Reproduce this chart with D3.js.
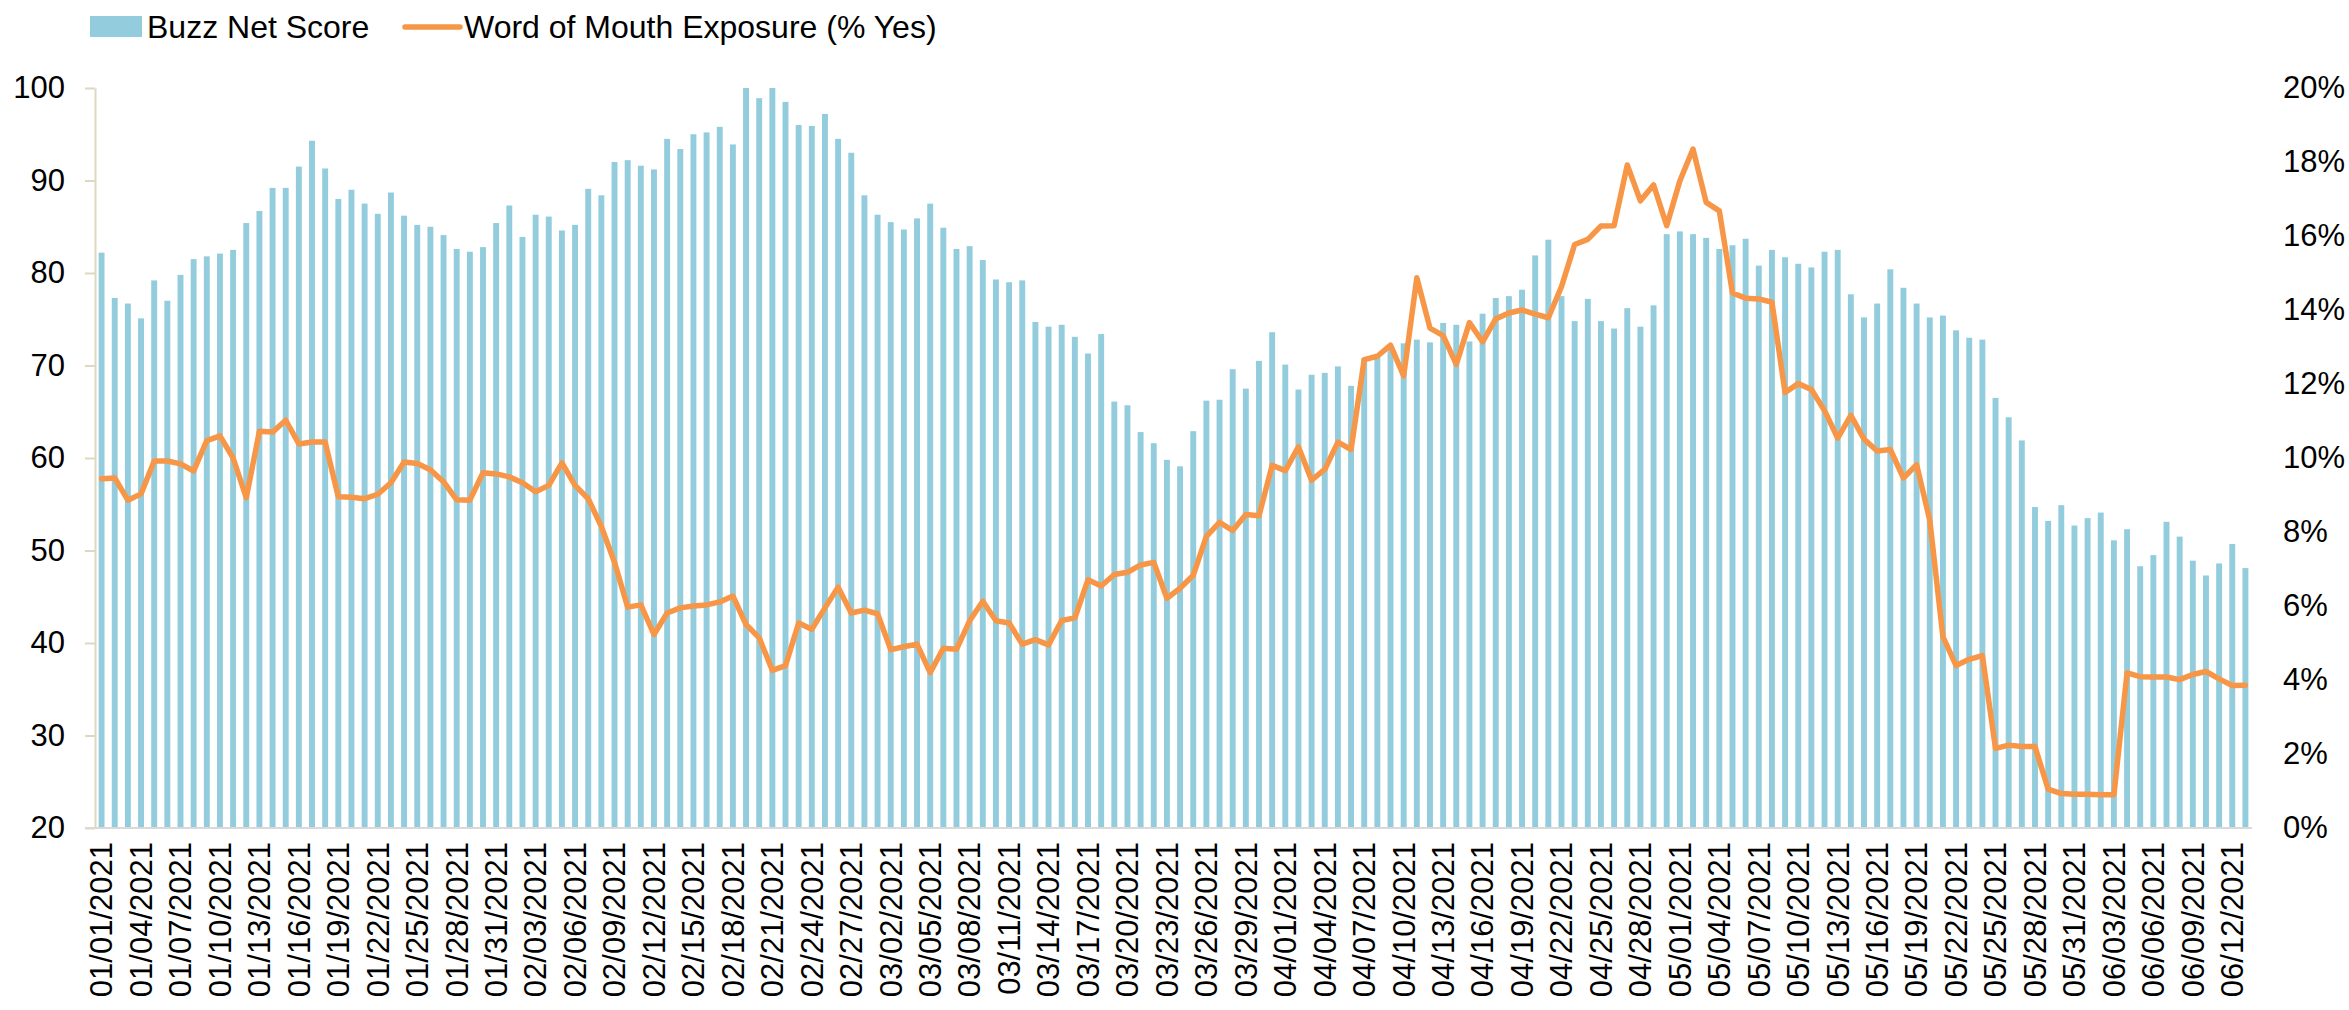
<!DOCTYPE html>
<html>
<head>
<meta charset="utf-8">
<script src="https://cdn.jsdelivr.net/npm/d3@7"></script>
<style>
  body { margin: 0; background: #fff; }
  text { font-family: Arial, "Liberation Sans", sans-serif; fill: #000; }
</style>
</head>
<body>
<div id="chart"></div>
<script>
// daily buzz net score (left axis)
var buzz = [
  82.2, 77.3, 76.7, 75.1, 79.2, 77.0, 79.8, 81.5, 81.8, 82.1, 82.5, 85.4, 86.7, 89.2, 89.2, 91.5,
  94.3, 91.3, 88.0, 89.0, 87.5, 86.4, 88.7, 86.2, 85.2, 85.0, 84.1, 82.6, 82.3, 82.8, 85.4,
  87.3, 83.9, 86.3, 86.1, 84.6, 85.2, 89.1, 88.4, 92.0, 92.2, 91.6, 91.2, 94.5, 93.4, 95.0, 95.2,
  95.8, 93.9, 100.0, 98.9, 100.0, 98.5, 96.0, 95.9, 97.2, 94.5, 93.0, 88.4, 86.3, 85.5, 84.7, 85.9,
  87.5, 84.9, 82.6, 82.9,
  81.4, 79.3, 79.0, 79.2, 74.7, 74.2, 74.4, 73.1, 71.3, 73.4, 66.1, 65.7, 62.8, 61.6, 59.8, 59.1,
  62.9, 66.2, 66.3, 69.6, 67.5, 70.5, 73.6, 70.1, 67.4, 69.0, 69.2, 69.9, 67.8, 70.8, 70.9, 71.8,
  72.4, 72.8, 72.5, 74.6, 74.4,
  72.6, 75.6, 77.3, 77.5, 78.2, 81.9, 83.6, 77.5, 74.8, 77.2, 74.8, 74.0, 76.2, 74.2, 76.5, 84.2,
  84.5, 84.2, 83.8, 82.6, 83.0, 83.7, 80.8, 82.5, 81.7, 81.0, 80.6, 82.3, 82.5, 77.7, 75.2, 76.7,
  80.4, 78.4, 76.7, 75.2,
  75.4, 73.8, 73.0, 72.8, 66.5, 64.4, 61.9, 54.7, 53.2, 54.9, 52.7, 53.5, 54.1, 51.1, 52.3, 48.3,
  49.5, 53.1, 51.5, 48.9, 47.3, 48.6, 50.7, 48.1
];

// word of mouth exposure, % yes (right axis)
var wom = [
  9.44, 9.46, 8.86, 9.03, 9.92, 9.92, 9.84, 9.65, 10.47, 10.60, 10.0, 8.93, 10.72, 10.70, 11.02, 10.38,
  10.43, 10.43, 8.95, 8.94, 8.90, 9.02, 9.33, 9.89, 9.85, 9.68, 9.36, 8.87, 8.86, 9.60, 9.57,
  9.49, 9.33, 9.09, 9.26, 9.87, 9.26, 8.90, 8.15, 7.18, 5.97, 6.03, 5.23, 5.81, 5.95, 6.0, 6.03,
  6.11, 6.27, 5.50, 5.14, 4.26, 4.39, 5.54, 5.37, 5.95, 6.51, 5.81, 5.89, 5.79, 4.82, 4.90, 4.97,
  4.20, 4.86, 4.83, 5.60,
  6.13, 5.60, 5.54, 4.97, 5.09, 4.95, 5.61, 5.68, 6.71, 6.54, 6.85, 6.91, 7.11, 7.18, 6.21, 6.48,
  6.83, 7.88, 8.26, 8.04, 8.47, 8.44, 9.80, 9.66, 10.30, 9.40, 9.69, 10.43, 10.23, 12.66, 12.75, 13.05,
  12.22, 14.87, 13.51, 13.31, 12.53,
  13.66, 13.14, 13.76, 13.92, 14.0, 13.89, 13.79, 14.63, 15.77, 15.91, 16.27, 16.28, 17.92, 16.95, 17.38, 16.28,
  17.49, 18.35, 16.91, 16.68, 14.46, 14.32, 14.30, 14.21, 11.77, 12.01, 11.85, 11.28, 10.54, 11.15, 10.51, 10.19,
  10.23, 9.46, 9.82, 8.32,
  5.17, 4.39, 4.56, 4.66, 2.15, 2.24, 2.20, 2.20, 1.05, 0.93, 0.91, 0.91, 0.90, 0.90, 4.19, 4.09,
  4.08, 4.08, 4.01, 4.15, 4.23, 4.03, 3.85, 3.86
];

// one category per day, 01/01/2021 .. 06/13/2021
var fmt = d3.timeFormat("%m/%d/%Y");
var dates = d3.timeDay.range(new Date(2021, 0, 1), new Date(2021, 5, 14)).map(fmt);

var leftTicks = [20, 30, 40, 50, 60, 70, 80, 90, 100];
var rightTicks = [0, 0.02, 0.04, 0.06, 0.08, 0.10, 0.12, 0.14, 0.16, 0.18, 0.20];

var seriesNames = ["Buzz Net Score", "Word of Mouth Exposure (% Yes)"];
var barColor = "#93cddd", lineColor = "#f79646";

var margin = {top: 88, right: 97, bottom: 182, left: 95},
    width = 2349 - margin.left - margin.right,
    height = 1010 - margin.top - margin.bottom;

var data = dates.map(function(d, i) { return {date: d, buzz: buzz[i], wom: wom[i] / 100}; });

var svgRoot = d3.select("#chart").append("svg")
  .attr("width", 2349)
  .attr("height", 1010);

var svg = svgRoot.append("g")
  .attr("transform", "translate(" + margin.left + "," + margin.top + ")");

//scales
var x = d3.scaleBand()
  .domain(dates)
  .range([0, width])
  .paddingInner(0.55)
  .paddingOuter(0.275);

var y = d3.scaleLinear().domain([20, 100]).range([height, 0]);
var y2 = d3.scaleLinear().domain([0, 0.20]).range([height, 0]);

//bars
svg.append("g")
  .selectAll("rect")
  .data(data)
  .enter()
  .append("rect")
    .attr("x", function(d) { return x(d.date); })
    .attr("y", function(d) { return y(d.buzz); })
    .attr("width", x.bandwidth())
    .attr("height", function(d) { return height - y(d.buzz); })
    .attr("fill", barColor);

//left axis
var yAxis = svg.append("g")
  .call(d3.axisLeft(y).tickValues(leftTicks).tickSize(10).tickSizeOuter(0).tickPadding(20));
yAxis.select(".domain").attr("stroke", "#ddd8bf").attr("stroke-width", 2);
yAxis.selectAll(".tick line").attr("stroke", "#ddd8bf").attr("stroke-width", 2);
yAxis.selectAll("text").style("font-size", "31px").attr("fill", "#000");

//right axis
var y2Axis = svg.append("g")
  .attr("transform", "translate(" + width + ",0)")
  .call(d3.axisRight(y2).tickValues(rightTicks).tickFormat(d3.format(".0%")).tickSize(0).tickPadding(31));
y2Axis.select(".domain").remove();
y2Axis.selectAll("text").style("font-size", "31px").attr("fill", "#000");

//bottom axis line
svg.append("line")
  .attr("x1", -10)
  .attr("x2", width)
  .attr("y1", height)
  .attr("y2", height)
  .attr("stroke", "#d9d9d9")
  .attr("stroke-width", 2);

//date labels every third day
svg.append("g")
  .selectAll("text")
  .data(dates.filter(function(d, i) { return i % 3 === 0; }))
  .enter()
  .append("text")
    .attr("transform", function(d) {
      return "translate(" + (x(d) + x.bandwidth() / 2) + "," + (height + 14) + ") rotate(-90)";
    })
    .attr("dy", "0.35em")
    .style("text-anchor", "end")
    .style("font-size", "31px")
    .text(function(d) { return d; });

//line
var line = d3.line()
  .x(function(d) { return x(d.date) + x.bandwidth() / 2; })
  .y(function(d) { return y2(d.wom); });

svg.append("path")
  .datum(data)
  .attr("d", line)
  .attr("fill", "none")
  .attr("stroke", lineColor)
  .attr("stroke-width", 5.5)
  .attr("stroke-linejoin", "round")
  .attr("stroke-linecap", "round");

//legend
var legend = svgRoot.append("g");
legend.append("rect")
  .attr("x", 90).attr("y", 16)
  .attr("width", 52).attr("height", 21)
  .attr("fill", barColor);
legend.append("text")
  .attr("x", 147).attr("y", 38)
  .style("font-size", "32px")
  .text(seriesNames[0]);
legend.append("line")
  .attr("x1", 405).attr("x2", 460)
  .attr("y1", 27).attr("y2", 27)
  .attr("stroke", lineColor)
  .attr("stroke-width", 5.5)
  .attr("stroke-linecap", "round");
legend.append("text")
  .attr("x", 464).attr("y", 38)
  .style("font-size", "32px")
  .text(seriesNames[1]);
</script>
</body>
</html>
